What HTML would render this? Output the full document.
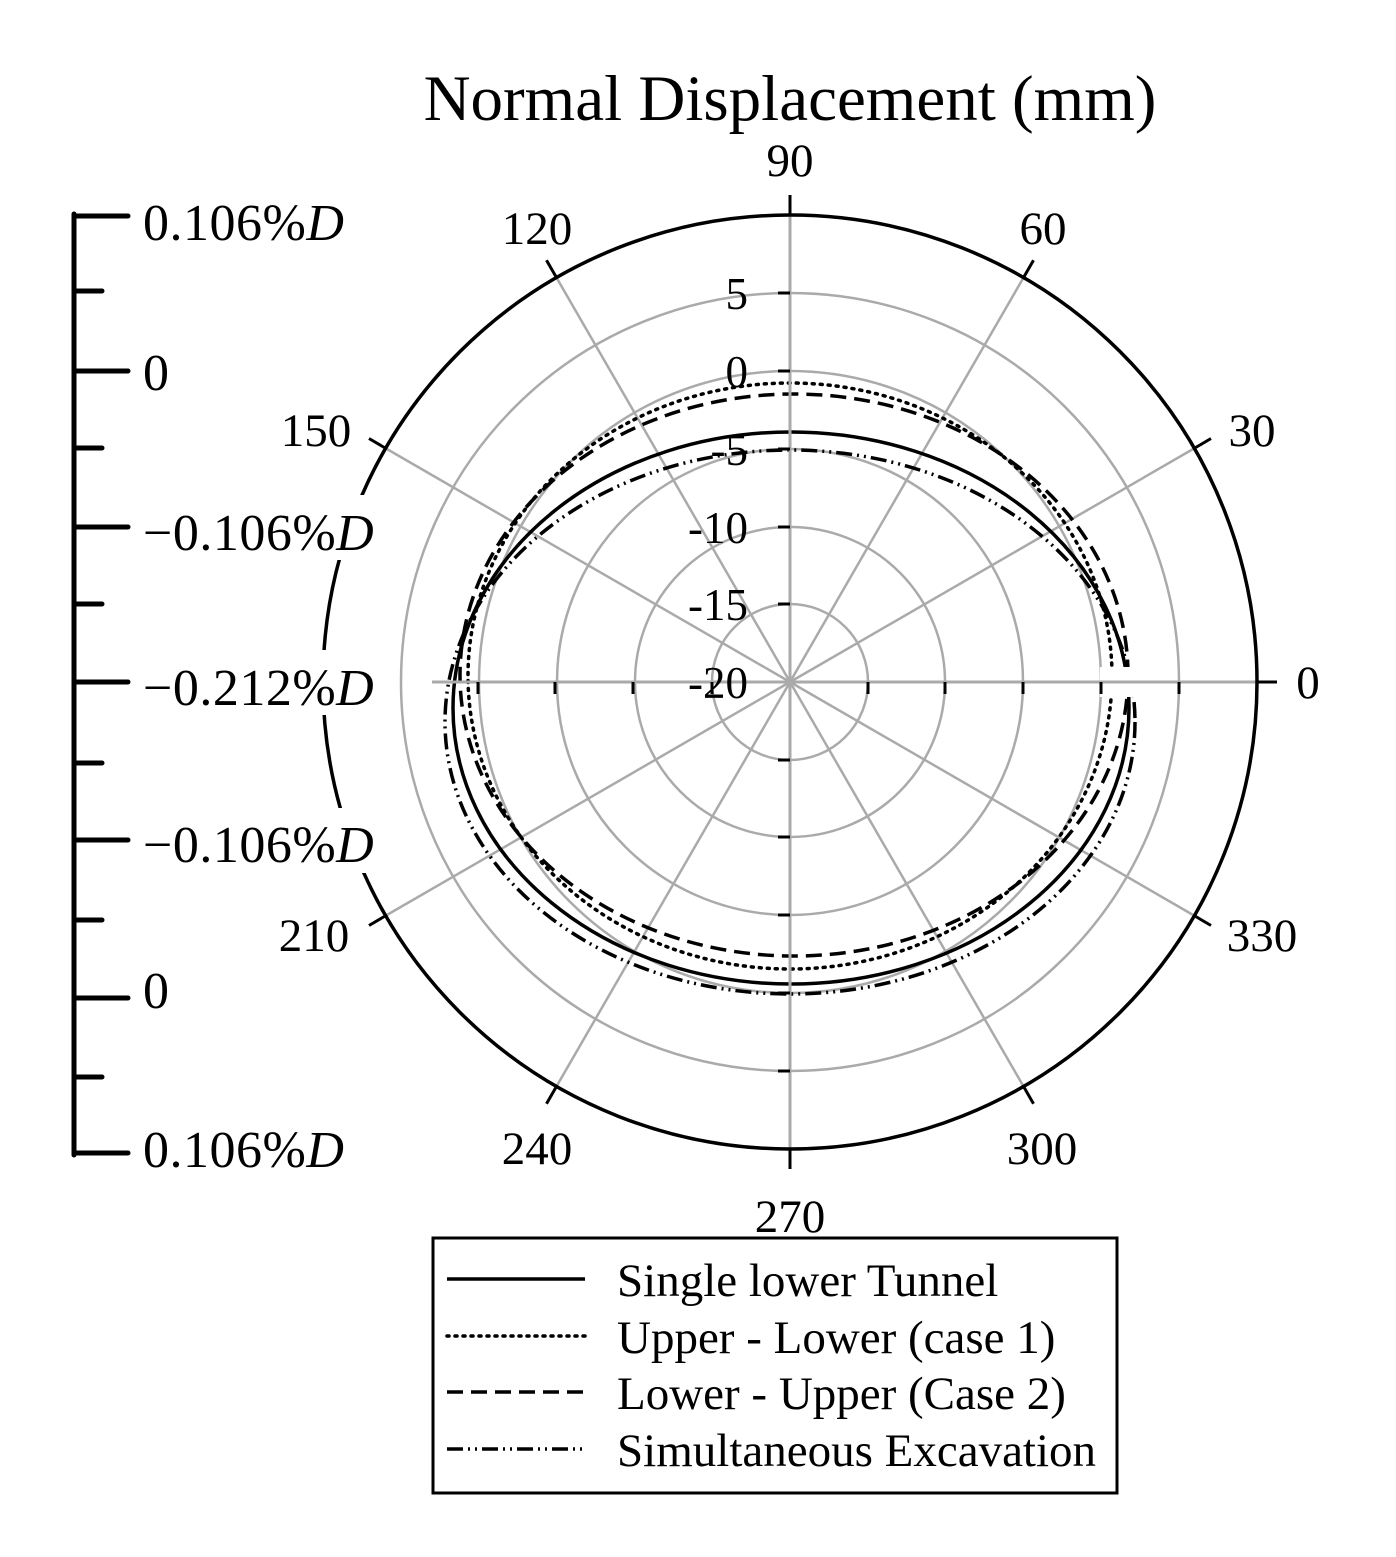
<!DOCTYPE html>
<html><head><meta charset="utf-8"><style>
html,body{margin:0;padding:0;background:#fff}
svg{display:block}
text{font-family:"Liberation Serif",serif;fill:#000}
</style></head><body>
<svg width="1396" height="1557" viewBox="0 0 1396 1557" xmlns="http://www.w3.org/2000/svg">
<rect width="1396" height="1557" fill="#fff"/>
<text x="790" y="120" font-size="65" text-anchor="middle">Normal Displacement (mm)</text>
<g fill="none" stroke="#aaa" stroke-width="2.5">
<circle cx="790" cy="682" r="78"/><circle cx="790" cy="682" r="155"/><circle cx="790" cy="682" r="233"/><circle cx="790" cy="682" r="311"/><circle cx="790" cy="682" r="389"/>
</g>
<g stroke="#aaa" stroke-width="2.5">
<line x1="790" y1="682" x2="1194" y2="448.5"/>
<line x1="790" y1="682" x2="1023.5" y2="277.6"/>
<line x1="790" y1="682" x2="556.5" y2="277.6"/>
<line x1="790" y1="682" x2="386" y2="448.5"/>
<line x1="790" y1="682" x2="386" y2="915.5"/>
<line x1="790" y1="682" x2="556.5" y2="1086.4"/>
<line x1="790" y1="682" x2="1023.5" y2="1086.4"/>
<line x1="790" y1="682" x2="1194" y2="915.5"/>
</g>
<g fill="none" stroke="#000" stroke-width="3.5">
<ellipse cx="791" cy="708" rx="338" ry="276"/>
<ellipse cx="790" cy="676" rx="322" ry="293" stroke-dasharray="2 6" stroke-linecap="round"/>
<ellipse cx="794" cy="675" rx="334" ry="281" stroke-dasharray="16 8"/>
<ellipse cx="790" cy="722" rx="345" ry="272" stroke-dasharray="16 5 2 5 2 5"/>
</g>
<rect x="1100" y="667" width="50" height="30" fill="#fff"/>
<line x1="432" y1="682" x2="1257" y2="682" stroke="#aaa" stroke-width="3"/>
<line x1="790" y1="214" x2="790" y2="1166" stroke="#aaa" stroke-width="3"/>
<g stroke="#000" stroke-width="3">
<line x1="478" y1="682" x2="478" y2="694"/><line x1="555" y1="682" x2="555" y2="694"/><line x1="633" y1="682" x2="633" y2="694"/><line x1="712" y1="682" x2="712" y2="694"/>
<line x1="868" y1="682" x2="868" y2="694"/><line x1="945" y1="682" x2="945" y2="694"/><line x1="1023" y1="682" x2="1023" y2="694"/><line x1="1101" y1="682" x2="1101" y2="694"/><line x1="1179" y1="682" x2="1179" y2="694"/>
<line x1="778" y1="293" x2="790" y2="293"/><line x1="778" y1="371" x2="790" y2="371"/><line x1="778" y1="449" x2="790" y2="449"/><line x1="778" y1="527" x2="790" y2="527"/><line x1="778" y1="604" x2="790" y2="604"/>
<line x1="778" y1="760" x2="790" y2="760"/><line x1="778" y1="837" x2="790" y2="837"/><line x1="778" y1="915" x2="790" y2="915"/><line x1="778" y1="993" x2="790" y2="993"/><line x1="778" y1="1071" x2="790" y2="1071"/>
</g>
<circle cx="790" cy="682" r="467" fill="none" stroke="#000" stroke-width="3.5"/>
<g stroke="#000" stroke-width="3">
<line x1="1257" y1="682" x2="1277" y2="682"/>
<line x1="1194" y1="448.5" x2="1211" y2="438.5"/>
<line x1="1023.5" y1="277.6" x2="1033.5" y2="260.3"/>
<line x1="790" y1="215" x2="790" y2="195"/>
<line x1="556.5" y1="277.6" x2="546.5" y2="260.3"/>
<line x1="386" y1="448.5" x2="369" y2="438.5"/>
<line x1="386" y1="915.5" x2="369" y2="925.5"/>
<line x1="556.5" y1="1086.4" x2="546.5" y2="1103.7"/>
<line x1="790" y1="1149" x2="790" y2="1169"/>
<line x1="1023.5" y1="1086.4" x2="1033.5" y2="1103.7"/>
<line x1="1194" y1="915.5" x2="1211" y2="925.5"/>
</g>
<g font-size="45" text-anchor="end">
<text x="748" y="309">5</text><text x="748" y="387">0</text><text x="748" y="465">-5</text><text x="748" y="543">-10</text><text x="748" y="620">-15</text><text x="748" y="698">-20</text>
</g>
<g font-size="47" text-anchor="middle">
<text x="790" y="176">90</text><text x="1043" y="244">60</text><text x="1252" y="446">30</text><text x="1308" y="698">0</text>
<text x="1262" y="951">330</text><text x="1042" y="1164">300</text><text x="790" y="1232">270</text><text x="537" y="1164">240</text>
<text x="314" y="951">210</text><text x="316" y="446">150</text><text x="537" y="244">120</text>
</g>
<g stroke="#000" stroke-width="5" stroke-linecap="round">
<line x1="74" y1="214" x2="74" y2="1155"/>
<line x1="74" y1="216" x2="128" y2="216"/><line x1="74" y1="371" x2="128" y2="371"/><line x1="74" y1="527" x2="128" y2="527"/><line x1="74" y1="682" x2="128" y2="682"/><line x1="74" y1="840" x2="128" y2="840"/><line x1="74" y1="998" x2="128" y2="998"/><line x1="74" y1="1153" x2="128" y2="1153"/>
<line x1="74" y1="291" x2="102" y2="291"/><line x1="74" y1="448" x2="102" y2="448"/><line x1="74" y1="604" x2="102" y2="604"/><line x1="74" y1="763" x2="102" y2="763"/><line x1="74" y1="920" x2="102" y2="920"/><line x1="74" y1="1077" x2="102" y2="1077"/>
</g>
<g fill="#fff">
<rect x="143" y="495" width="252" height="65"/><rect x="143" y="650" width="252" height="65"/><rect x="143" y="808" width="252" height="65"/>
</g>
<g font-size="52" letter-spacing="0.5">
<text x="143" y="240">0.106%<tspan font-style="italic">D</tspan></text>
<text x="143" y="390">0</text>
<text x="143" y="550">−0.106%<tspan font-style="italic">D</tspan></text>
<text x="143" y="705">−0.212%<tspan font-style="italic">D</tspan></text>
<text x="143" y="862">−0.106%<tspan font-style="italic">D</tspan></text>
<text x="143" y="1008">0</text>
<text x="143" y="1167">0.106%<tspan font-style="italic">D</tspan></text>
</g>
<rect x="433" y="1238" width="684" height="255" fill="#fff" stroke="#000" stroke-width="3"/>
<g stroke="#000" stroke-width="3.5" fill="none">
<line x1="447" y1="1279" x2="585" y2="1279"/>
<line x1="447" y1="1336" x2="585" y2="1336" stroke-dasharray="2 6" stroke-linecap="round"/>
<line x1="447" y1="1392" x2="585" y2="1392" stroke-dasharray="16 8"/>
<line x1="447" y1="1449" x2="585" y2="1449" stroke-dasharray="16 5 2 5 2 5"/>
</g>
<g font-size="47">
<text x="617" y="1296">Single lower Tunnel</text>
<text x="617" y="1353">Upper - Lower (case 1)</text>
<text x="617" y="1409">Lower - Upper (Case 2)</text>
<text x="617" y="1466">Simultaneous Excavation</text>
</g>
</svg>
</body></html>
